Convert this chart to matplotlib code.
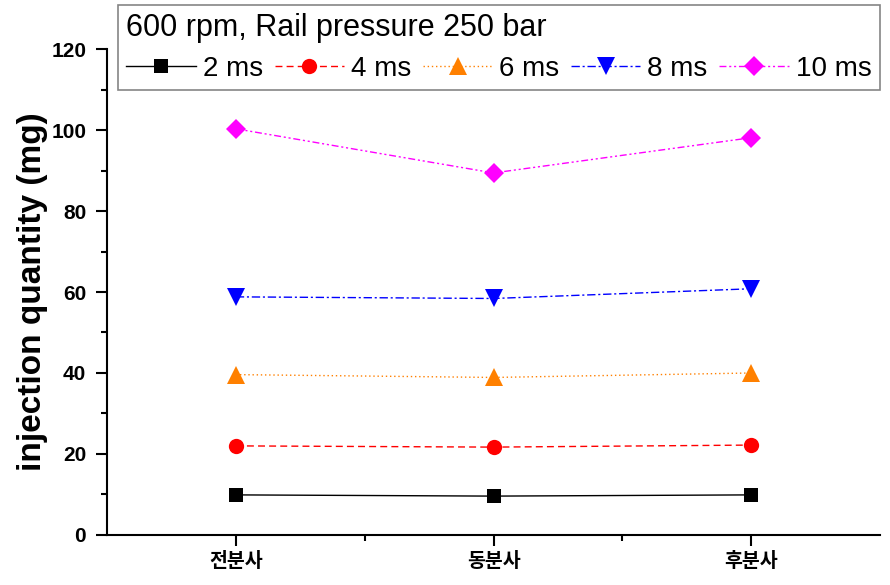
import matplotlib
matplotlib.use("Agg")
import matplotlib.pyplot as plt
from matplotlib.ticker import MultipleLocator, FixedLocator

plt.rcParams['font.family'] = ['Liberation Sans', 'Noto Sans CJK KR', 'DejaVu Sans']

categories = ["전분사", "동분사", "후분사"]
series_labels = ["2 ms", "4 ms", "6 ms", "8 ms", "10 ms"]
q_2ms = [9.9, 9.6, 9.9]
q_4ms = [22.0, 21.7, 22.2]
q_6ms = [39.6, 38.9, 40.0]
q_8ms = [58.8, 58.4, 60.8]
q_10ms = [100.3, 89.4, 98.1]
legend_title = "600 rpm, Rail pressure 250 bar"

styles = [
    dict(color="black", linestyle="-", marker="s", markersize=9.5),
    dict(color="red", linestyle=(0, (5, 3)), marker="o", markersize=11),
    dict(color="#FF8000", linestyle=(0, (1, 2)), marker="^", markersize=12.5),
    dict(color="blue", linestyle=(0, (6, 2, 1.5, 2)), marker="v", markersize=12.5),
    dict(color="magenta", linestyle=(0, (5, 2, 1.5, 2, 1.5, 2)), marker="D", markersize=10),
]

fig = plt.figure(figsize=(8.9, 5.85), dpi=100)
ax = fig.add_axes([0.1202, 0.0855, 0.8686, 0.8307])

x = [1, 2, 3]
handles = []
for vals, lab, st in zip([q_2ms, q_4ms, q_6ms, q_8ms, q_10ms], series_labels, styles):
    h, = ax.plot(x, vals, linewidth=1.0, label=lab,
                 markeredgewidth=0, clip_on=False, **st)
    handles.append(h)

ax.set_xlim(0.5, 3.5)
ax.set_ylim(0, 120)
ax.xaxis.set_major_locator(FixedLocator(x))
ax.xaxis.set_minor_locator(FixedLocator([1.5, 2.5]))
ax.set_xticklabels(categories, fontfamily=['Noto Sans CJK KR'], fontweight='bold', fontsize=14)
ax.yaxis.set_major_locator(MultipleLocator(20))
ax.yaxis.set_minor_locator(MultipleLocator(10))
for lab in ax.get_yticklabels():
    lab.set_fontweight('bold')
    lab.set_fontsize(15)

ax.tick_params(axis='both', which='major', direction='out', length=8, width=1.5)
ax.tick_params(axis='both', which='minor', direction='out', length=4.5, width=1.5)
ax.tick_params(axis='x', which='major', pad=4)
ax.tick_params(axis='y', which='major', pad=7)

for s in ['top', 'right']:
    ax.spines[s].set_visible(False)
for s in ['left', 'bottom']:
    ax.spines[s].set_linewidth(1.5)

ax.set_ylabel("injection quantity (mg)", fontsize=24, fontweight='bold', labelpad=2)

leg = fig.legend(handles=handles, loc='upper left', bbox_to_anchor=(118/890, 1 - 5/585),
                 ncol=5, title=legend_title, fontsize=20, title_fontsize=22,
                 frameon=True, fancybox=False, edgecolor='#666666',
                 handlelength=2.5, handletextpad=0.25, columnspacing=0.42,
                 borderpad=0.3, labelspacing=0.1, borderaxespad=0)
leg._legend_box.align = "left"
leg._legend_box.sep = 9
leg.get_frame().set_linewidth(1.2)

fig.savefig("out.png", dpi=100)
